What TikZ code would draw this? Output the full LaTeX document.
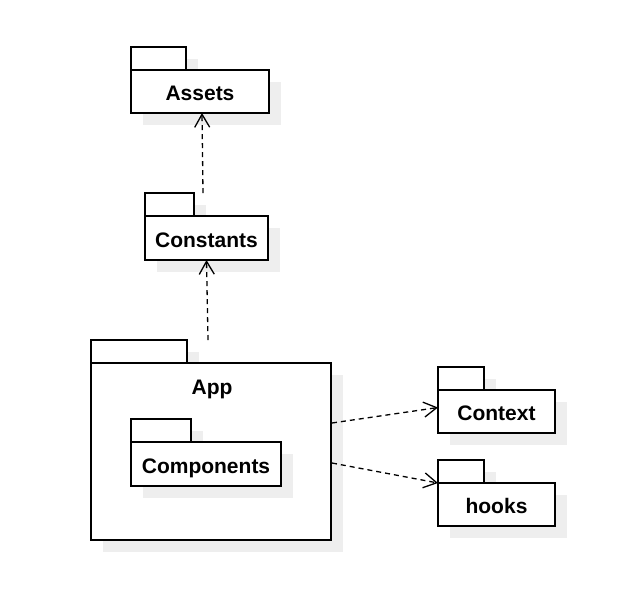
\documentclass[tikz,border=0pt]{standalone}
\usepackage{fontspec}
\setmainfont{Liberation Sans}
\usetikzlibrary{arrows.meta,calc,shadows}
\definecolor{shadowgray}{HTML}{EEEEEE}
\begin{document}
\begin{tikzpicture}[x=1pt,y={(0pt,-1pt)},
  shd/.style={drop shadow={shadow xshift=12pt,shadow yshift=-12pt,fill=shadowgray,opacity=1}},
  box/.style={draw=black,fill=white,line width=1.5pt,inner sep=0pt,outer sep=0pt,shd,
    text height=18pt,text depth=0pt,font=\fontsize{21}{25}\selectfont\bfseries},
  lbl/.style={inner sep=0pt,text height=18pt,text depth=0pt,font=\fontsize{21}{25}\selectfont\bfseries},
  dep/.style={line width=1.3pt,dash pattern=on 5pt off 4pt,
    -{Straight Barb[length=13pt,width=15pt,line width=1.3pt]}}]
\useasboundingbox[fill=white] (0,0) rectangle (623,598);

% Assets
\node[box,minimum width=55,minimum height=23] (assetstab) at (158.5,58.5) {};
\node[box,minimum width=138,minimum height=43] (assets) at (200,91.5) {Assets};
% Constants
\node[box,minimum width=49,minimum height=23] (consttab) at (169.5,204.5) {};
\node[box,minimum width=123,minimum height=44] (constants) at (206.5,238) {Constants};
% App
\node[box,minimum width=96,minimum height=23] (apptab) at (139,351.5) {};
\node[box,minimum width=240,minimum height=177] (app) at (211,451.5) {};
\node[lbl] (applbl) at (212,385.5) {App};
% Components
\node[box,minimum width=60,minimum height=23] (comptab) at (161,430.5) {};
\node[box,minimum width=150,minimum height=44] (components) at (206,464) {Components};
% Context
\node[box,minimum width=46,minimum height=23] (ctxtab) at (461,378.5) {};
\node[box,minimum width=117,minimum height=43] (context) at (496.5,411.5) {Context};
% hooks
\node[box,minimum width=46,minimum height=23] (hookstab) at (461,471.5) {};
\node[box,minimum width=117,minimum height=43] (hooks) at (496.5,504.5) {hooks};

% connectors
\coordinate (c1) at (203,193);
\coordinate (c2) at (208,340);
\coordinate (c3) at (332,423);
\coordinate (c4) at (332,463);
\draw[dep] (c1) -- ($(assets.south)+(2,0)$);
\draw[dep] (c2) -- (constants.south);
\draw[dep] (c3) -- ($(context.west)+(0,-4)$);
\draw[dep] (c4) -- (hooks.north west);
\end{tikzpicture}
\end{document}
